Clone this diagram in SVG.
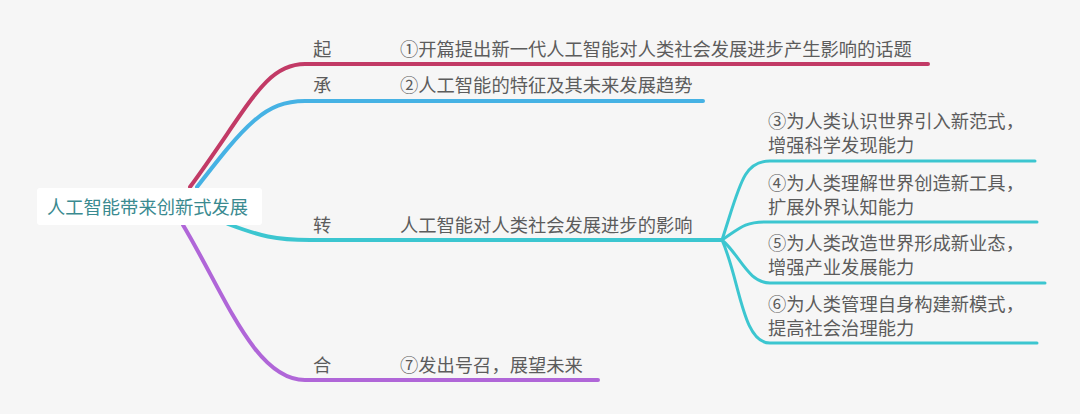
<svg xmlns="http://www.w3.org/2000/svg" width="1080" height="414" viewBox="0 0 1080 414">
<style>
.bg{fill:#f6f6f6}
.t{font-family:"Noto Sans CJK SC","Noto Sans",sans-serif;font-size:18.3px;fill:#5c5c5c}
.rt{font-family:"Noto Sans CJK SC","Noto Sans",sans-serif;font-size:18.3px;fill:#3a8a90}
.c{fill:none;stroke-linecap:round}
.red{stroke:#c23a66;stroke-width:4}
.blue{stroke:#46b2e4;stroke-width:4}
.teal{stroke:#3cc6d0;stroke-width:4}
.tealS{stroke:#3cc6d0;stroke-width:3}
.purple{stroke:#b066d8;stroke-width:4}
</style>
<rect class="bg" x="0" y="0" width="1080" height="414"/>
<g id="connectors">
<path class="c red" d="M190,187 C250,105 265,64 305,64 L928,64"/>
<path class="c blue" d="M197,187 C245,125 265,101 305,101 L703,101"/>
<path class="c teal" d="M228,224 C260,236 275,240 310,240 L722,240"/>
<path class="c purple" d="M183,225 C225,295 255,380 305,380 L598,380"/>
<path class="c tealS" d="M722,240 C740,185 743,161 770,161 L1035,161"/>
<path class="c tealS" d="M722,240 C740,228 745,222 765,222 L1037,222"/>
<path class="c tealS" d="M722,240 C740,255 748,283 770,283 L1045,283"/>
<path class="c tealS" d="M722,240 C740,280 742,343 770,343 L1037,343"/>
</g>
<g id="root">
<rect x="37" y="188" width="225" height="37" rx="3" fill="#ffffff"/>
<text class="rt" x="47" y="214">人工智能带来创新式发展</text>
</g>
<g id="qi">
<text class="t" x="313" y="56">起</text>
<text class="t" x="400" y="56">①开篇提出新一代人工智能对人类社会发展进步产生影响的话题</text>
</g>
<g id="cheng">
<text class="t" x="313" y="92">承</text>
<text class="t" x="400" y="92">②人工智能的特征及其未来发展趋势</text>
</g>
<g id="zhuan">
<text class="t" x="313" y="232">转</text>
<text class="t" x="400" y="232">人工智能对人类社会发展进步的影响</text>
</g>
<g id="he">
<text class="t" x="313" y="372">合</text>
<text class="t" x="400" y="372">⑦发出号召，展望未来</text>
</g>
<g id="sub3">
<text class="t" x="768" y="128">③为人类认识世界引入新范式，</text>
<text class="t" x="768" y="152">增强科学发现能力</text>
</g>
<g id="sub4">
<text class="t" x="768" y="190">④为人类理解世界创造新工具，</text>
<text class="t" x="768" y="214">扩展外界认知能力</text>
</g>
<g id="sub5">
<text class="t" x="768" y="250">⑤为人类改造世界形成新业态，</text>
<text class="t" x="768" y="274">增强产业发展能力</text>
</g>
<g id="sub6">
<text class="t" x="768" y="311">⑥为人类管理自身构建新模式，</text>
<text class="t" x="768" y="335">提高社会治理能力</text>
</g>
</svg>
